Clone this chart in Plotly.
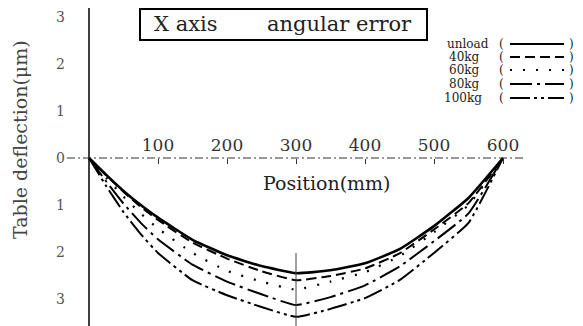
import plotly.graph_objects as go

# ---- data ----
position = [0, 25, 50, 75, 100, 150, 200, 250, 300, 350, 400, 450, 500, 550, 600]
unload = [0, -0.36, -0.70, -1.00, -1.27, -1.74, -2.07, -2.30, -2.45, -2.39, -2.24, -1.94, -1.45, -0.85, 0]
kg40 = [0, -0.37, -0.72, -1.04, -1.32, -1.80, -2.14, -2.41, -2.60, -2.51, -2.35, -2.03, -1.52, -0.96, 0]
kg60 = [0, -0.42, -0.82, -1.18, -1.50, -2.02, -2.40, -2.63, -2.80, -2.63, -2.43, -2.09, -1.58, -1.00, 0]
kg80 = [0, -0.50, -0.97, -1.38, -1.73, -2.27, -2.63, -2.90, -3.13, -2.96, -2.71, -2.31, -1.77, -1.18, 0]
kg100 = [0, -0.60, -1.15, -1.62, -2.02, -2.60, -2.92, -3.17, -3.38, -3.21, -2.98, -2.60, -2.02, -1.38, 0]

series_names = ["unload", "40kg", "60kg", "80kg", "100kg"]
series_values = [unload, kg40, kg60, kg80, kg100]

x_tickvals = [100, 200, 300, 400, 500, 600]
x_ticktext = ["100", "200", "300", "400", "500", "600"]
y_tickvals = [3, 2, 1, 0, -1, -2, -3]
y_ticktext = ["3", "2", "1", "0", "1", "2", "3"]

# ---- styles ----
dashes = ["solid", "10px,5px", "2px,11px", "22px,5px,3px,5px", "20px,4px,3px,4px,3px,4px"]
widths = [2.6, 2.0, 2.2, 2.0, 2.0]

W, H = 583, 326          # window size
OFF = 8                  # default page body margin
FW, FH = W - OFF, H - OFF
X0PX, XSCALE = 89, 0.69  # window px of x=0, px per mm
Y0PX, YSCALE = 158, 47   # window px of y=0, px per unit


def px_x(p):
    return (p - OFF) / FW


def px_y(p):
    return 1 - (p - OFF) / FH


SERIF = "DejaVu Serif"

fig = go.Figure()
for name, vals, d, w in zip(series_names, series_values, dashes, widths):
    fig.add_trace(go.Scatter(
        x=position, y=vals, mode="lines", name=name,
        line=dict(color="black", width=w, dash=d, shape="spline", smoothing=0.4),
        showlegend=False, hoverinfo="skip"))

shapes = []
# y axis line
shapes.append(dict(type="line", xref="x", yref="paper", x0=0, x1=0,
                   y0=1, y1=0, line=dict(color="black", width=1.5)))
# x axis (dash-dot) line
shapes.append(dict(type="line", xref="paper", yref="y", x0=px_x(67), x1=px_x(525),
                   y0=0, y1=0, line=dict(color="#333", width=1, dash="8px,3px,2px,3px")))
# vertical marker at minimum
shapes.append(dict(type="line", xref="x", yref="y", x0=300, x1=300, y0=-2.02, y1=-3.7,
                   line=dict(color="#444", width=1)))
# title box
shapes.append(dict(type="rect", xref="paper", yref="paper", x0=px_x(140), x1=px_x(427),
                   y0=px_y(9), y1=px_y(40), line=dict(color="black", width=2)))

annotations = []
annotations.append(dict(text="X axis", xref="paper", yref="paper", x=px_x(152), y=px_y(24),
                        xanchor="left", yanchor="middle", showarrow=False,
                        font=dict(family=SERIF, size=21, color="#222")))
annotations.append(dict(text="angular error", xref="paper", yref="paper", x=px_x(265), y=px_y(24),
                        xanchor="left", yanchor="middle", showarrow=False,
                        font=dict(family=SERIF, size=21, color="#222")))
annotations.append(dict(text="Position(mm)", xref="paper", yref="paper", x=px_x(327), y=px_y(183),
                        xanchor="center", yanchor="middle", showarrow=False,
                        font=dict(family=SERIF, size=19, color="#222")))
annotations.append(dict(text="Table deflection(μm)", xref="paper", yref="paper", x=px_x(20), y=px_y(140),
                        xanchor="center", yanchor="middle", showarrow=False, textangle=-90,
                        font=dict(family=SERIF, size=19, color="#444")))

# manual legend
leg_y = [44, 57, 70, 84, 98]
leg_x = [445, 447, 447, 447, 442]
for name, d, w, ly, lx in zip(series_names, dashes, widths, leg_y, leg_x):
    annotations.append(dict(text=name, xref="paper", yref="paper", x=px_x(lx), y=px_y(ly),
                            xanchor="left", yanchor="middle", showarrow=False,
                            font=dict(family=SERIF, size=12, color="#222")))
    annotations.append(dict(text="(", xref="paper", yref="paper", x=px_x(502), y=px_y(ly),
                            xanchor="center", yanchor="middle", showarrow=False,
                            font=dict(family=SERIF, size=12, color="#222")))
    annotations.append(dict(text=")", xref="paper", yref="paper", x=px_x(571), y=px_y(ly),
                            xanchor="center", yanchor="middle", showarrow=False,
                            font=dict(family=SERIF, size=12, color="#222")))
    shapes.append(dict(type="line", xref="paper", yref="paper", x0=px_x(510), x1=px_x(564),
                       y0=px_y(ly), y1=px_y(ly), line=dict(color="black", width=min(w, 2), dash=d)))

fig.update_layout(
    width=FW, height=FH,
    margin=dict(l=0, r=0, t=0, b=0),
    paper_bgcolor="white", plot_bgcolor="white",
    shapes=shapes, annotations=annotations, showlegend=False,
    xaxis=dict(range=[-(X0PX - OFF) / XSCALE, (W - X0PX) / XSCALE], showgrid=False, zeroline=False,
               showline=False, anchor="free", position=px_y(Y0PX), side="top",
               tickvals=x_tickvals, ticktext=x_ticktext, ticks="inside", ticklen=5,
               tickcolor="#333", tickwidth=1, ticklabelstandoff=4,
               tickfont=dict(family=SERIF, size=17, color="#333")),
    yaxis=dict(range=[-(H - Y0PX) / YSCALE, (Y0PX - OFF) / YSCALE], showgrid=False, zeroline=False,
               showline=False, anchor="free", position=px_x(X0PX),
               tickvals=y_tickvals, ticktext=y_ticktext, ticks="", ticklabelstandoff=24,
               tickfont=dict(family=SERIF, size=14, color="#555")),
)

fig.write_html("out.html")
